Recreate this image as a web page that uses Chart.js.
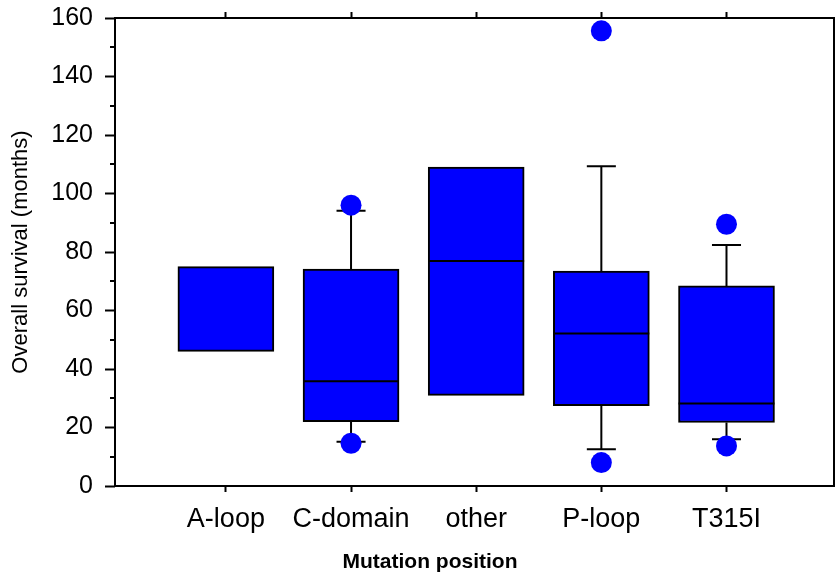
<!DOCTYPE html>
<html>
<head>
<meta charset="utf-8">
<script src="https://cdn.jsdelivr.net/npm/chart.js@4"></script>
<style>
  html, body { margin: 0; padding: 0; background: #fff; }
  canvas { display: block; }
</style>
</head>
<body>
<canvas id="boxChart" width="836" height="574"></canvas>
<script>
// Overall survival by mutation position (box plot)
const categories = ['A-loop', 'C-domain', 'other', 'P-loop', 'T315I'];
const q1 = [46, 22, 31, 27.5, 21.7];
const q3 = [75, 74.2, 109, 73.5, 68.4];
const medians = [null, 35.8, 76.9, 52.1, 28.2];
const whiskerLow = [null, 15.1, null, 12.6, 16.0];
const whiskerHigh = [null, 94.1, null, 109.3, 82.4];
const outlierHigh = [null, 96.0, null, 155.6, 89.5];
const outlierLow = [null, 14.6, null, 8.0, 13.7];

const yTicks = [0, 20, 40, 60, 80, 100, 120, 140, 160];
const yMinorTicks = [10, 30, 50, 70, 90, 110, 130, 150];

const xTitle = 'Mutation position';
const yTitle = 'Overall survival (months)';

const BLUE = '#0000ff';
const FONT = "'Liberation Sans', Arial, sans-serif";
const CAP_HALF = 0.116;   // whisker cap half width (x units)
const BOX_HALF = 0.383;   // box half width (x units)

const positions = categories.map((c, i) => i + 1);

// boxes
const boxData = positions.map((x, i) => ({ x: x, y: [q1[i], q3[i]] }));

// whiskers + caps as line segments separated by gaps
const whiskerData = [];
positions.forEach((x, i) => {
    if (whiskerHigh[i] != null) {
        whiskerData.push({ x: x, y: q3[i] }, { x: x, y: whiskerHigh[i] }, { x: x, y: null });
        whiskerData.push({ x: x - CAP_HALF, y: whiskerHigh[i] }, { x: x + CAP_HALF, y: whiskerHigh[i] }, { x: x, y: null });
    }
    if (whiskerLow[i] != null) {
        whiskerData.push({ x: x, y: q1[i] }, { x: x, y: whiskerLow[i] }, { x: x, y: null });
        whiskerData.push({ x: x - CAP_HALF, y: whiskerLow[i] }, { x: x + CAP_HALF, y: whiskerLow[i] }, { x: x, y: null });
    }
});

const medianData = [];
positions.forEach((x, i) => {
    if (medians[i] != null) {
        medianData.push({ x: x - BOX_HALF, y: medians[i] }, { x: x + BOX_HALF, y: medians[i] }, { x: x, y: null });
    }
});

const outlierData = [];
positions.forEach((x, i) => {
    if (outlierHigh[i] != null) outlierData.push({ x: x, y: outlierHigh[i] });
    if (outlierLow[i] != null) outlierData.push({ x: x, y: outlierLow[i] });
});

function fixTicks(scale) {
    scale.ticks = positions.map(v => ({ value: v }));
}

function noPad(scale) {
    scale.paddingLeft = 0;
    scale.paddingRight = 0;
    scale.paddingTop = 0;
    scale.paddingBottom = 0;
}

// frame, minor y ticks and x title
const framePlugin = {
    id: 'frame',
    afterDraw(chart) {
        const ctx = chart.ctx;
        const a = chart.chartArea;
        const y = chart.scales.y;
        ctx.save();
        ctx.strokeStyle = '#000';
        ctx.lineWidth = 2;
        ctx.strokeRect(a.left, a.top, a.right - a.left, a.bottom - a.top);
        ctx.beginPath();
        yMinorTicks.forEach(v => {
            const py = Math.round(y.getPixelForValue(v));
            ctx.moveTo(a.left - 5, py);
            ctx.lineTo(a.left, py);
        });
        ctx.stroke();
        ctx.fillStyle = '#000';
        ctx.font = 'bold 21px ' + FONT;
        ctx.textAlign = 'center';
        ctx.textBaseline = 'middle';
        ctx.fillText(xTitle, 430, 562);
        ctx.restore();
    }
};

new Chart(document.getElementById('boxChart').getContext('2d'), {
    type: 'bar',
    data: {
        datasets: [
            {
                type: 'scatter',
                data: outlierData,
                backgroundColor: BLUE,
                borderWidth: 0,
                pointRadius: 10.5,
                order: 0
            },
            {
                type: 'line',
                data: medianData,
                borderColor: '#000',
                borderWidth: 2,
                pointRadius: 0,
                spanGaps: false,
                order: 1
            },
            {
                type: 'bar',
                data: boxData,
                backgroundColor: BLUE,
                borderColor: '#000',
                borderWidth: 2,
                borderSkipped: false,
                barThickness: 96,
                grouped: false,
                order: 2
            },
            {
                type: 'line',
                data: whiskerData,
                borderColor: '#000',
                borderWidth: 2,
                pointRadius: 0,
                spanGaps: false,
                order: 3
            }
        ]
    },
    options: {
        responsive: false,
        animation: false,
        layout: { autoPadding: false, padding: { top: 0, right: 2, left: 0, bottom: 0 } },
        plugins: {
            legend: { display: false },
            tooltip: { enabled: false }
        },
        scales: {
            x: {
                type: 'linear',
                position: 'bottom',
                min: 0.114,
                max: 5.859,
                offset: false,
                afterBuildTicks: fixTicks,
                afterFit: s => { s.height = 88; noPad(s); },
                border: { display: false },
                grid: { display: true, drawOnChartArea: false, offset: false, tickLength: 6, tickWidth: 2, tickColor: '#000' },
                ticks: {
                    autoSkip: false,
                    maxRotation: 0,
                    padding: 11,
                    color: '#000',
                    font: { family: FONT, size: 27 },
                    callback: v => categories[v - 1] || ''
                }
            },
            x2: {
                type: 'linear',
                position: 'top',
                min: 0.114,
                max: 5.859,
                offset: false,
                afterBuildTicks: fixTicks,
                afterFit: s => { s.height = 18; noPad(s); },
                border: { display: false },
                grid: { display: true, drawOnChartArea: false, offset: false, tickLength: 6, tickWidth: 2, tickColor: '#000' },
                ticks: { display: false }
            },
            y: {
                min: 0,
                max: 160,
                afterBuildTicks: s => { s.ticks = yTicks.map(v => ({ value: v })); },
                afterFit: s => { s.width = 115; noPad(s); },
                border: { display: false },
                grid: { drawOnChartArea: false, tickLength: 10, tickWidth: 2, tickColor: '#000' },
                ticks: {
                    padding: 12,
                    color: '#000',
                    font: { family: FONT, size: 25 }
                },
                title: {
                    display: true,
                    text: yTitle,
                    color: '#000',
                    font: { family: FONT, size: 22 },
                    padding: { top: 8, bottom: 0 }
                }
            }
        }
    },
    plugins: [framePlugin]
});
</script>
</body>
</html>
